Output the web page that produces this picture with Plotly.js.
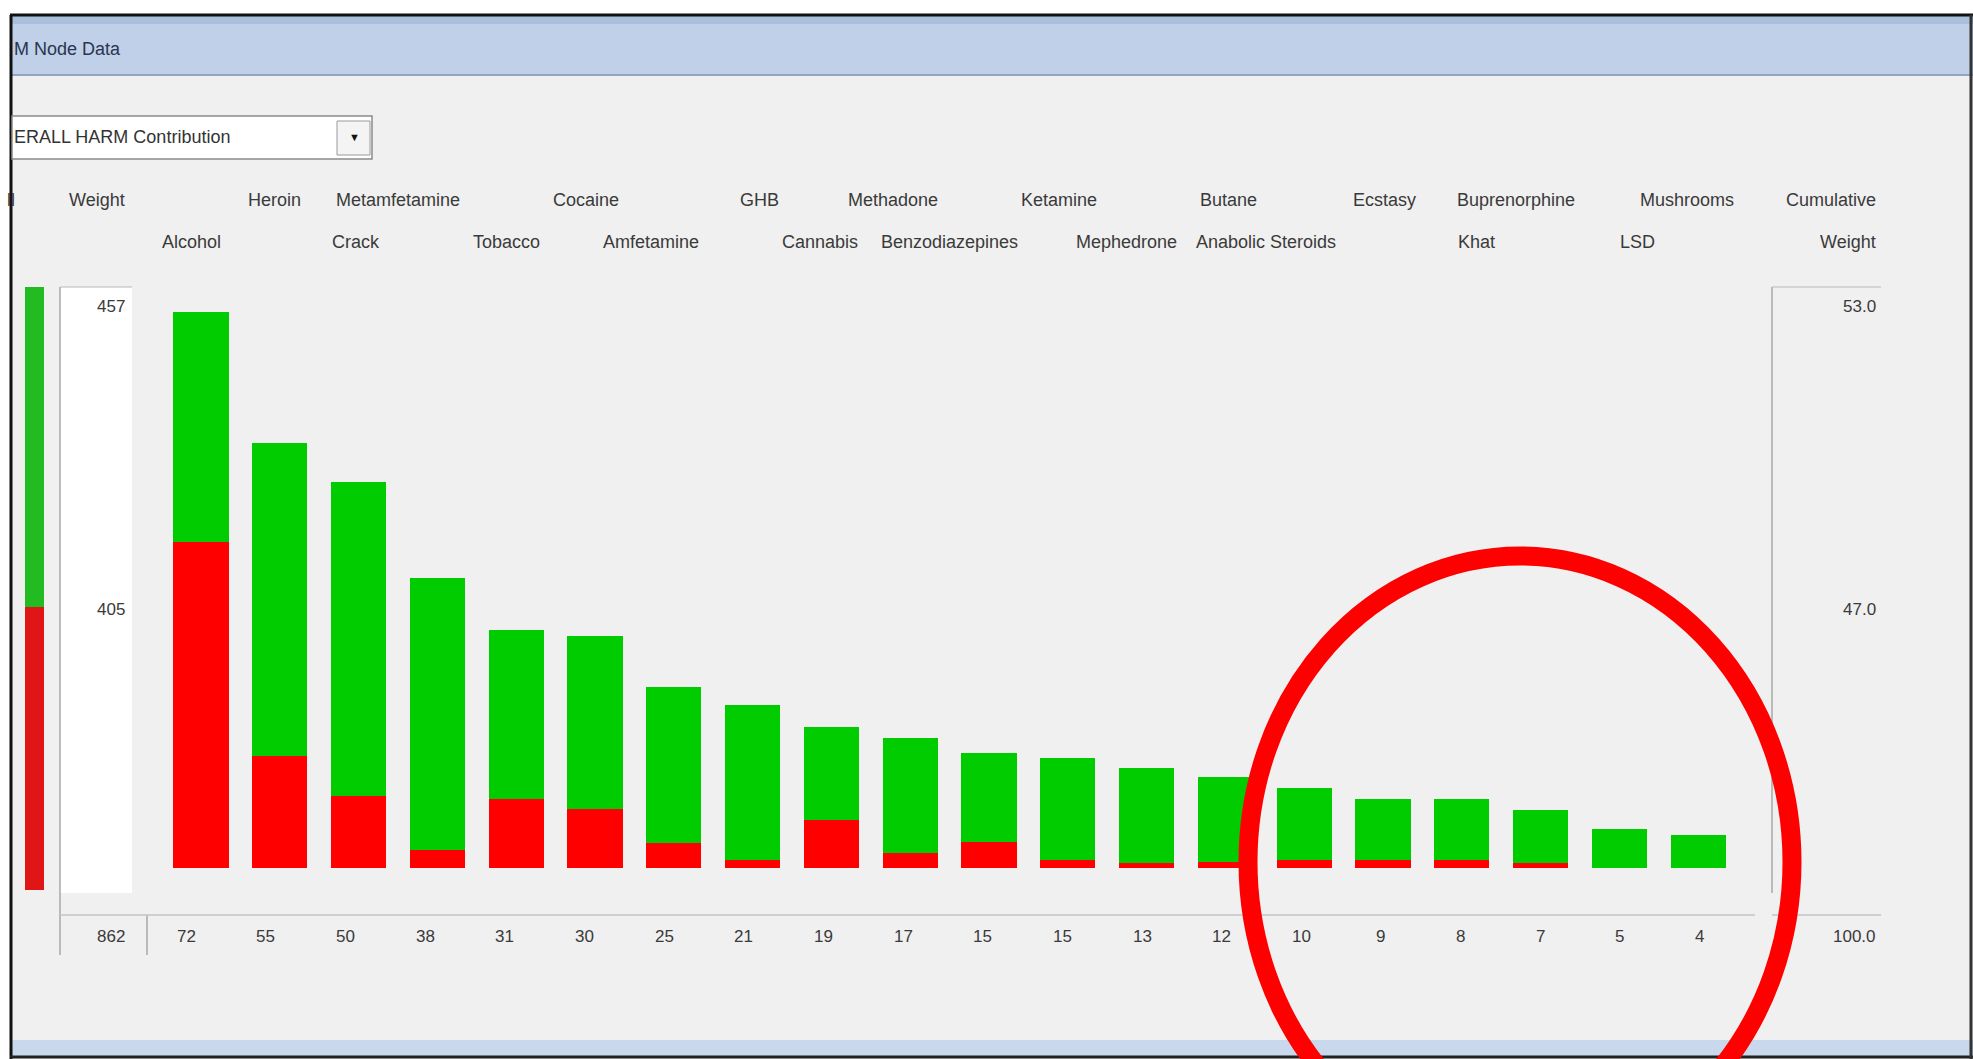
<!DOCTYPE html>
<html>
<head>
<meta charset="utf-8">
<script src="https://cdn.plot.ly/plotly-3.0.1.min.js"></script>
<style>html,body{margin:0;padding:0;background:#f0f0f0;overflow:hidden}#chart{width:1973px;height:1059px}</style>
</head>
<body>
<div id="chart"></div>
<script>
// ---- data ----
const drugs = ['Alcohol','Heroin','Crack','Metamfetamine','Tobacco','Cocaine','Amfetamine','GHB','Cannabis','Methadone','Benzodiazepines','Ketamine','Mephedrone','Butane','Anabolic Steroids','Ecstasy','Khat','Buprenorphine','LSD','Mushrooms'];
const harmRed   = [42.2, 14.5, 9.3, 2.3, 8.9, 7.6, 3.2, 1.1, 6.2, 1.9, 3.4, 1.0, 0.6, 0.8, 1.1, 1.1, 1.0, 0.7, 0, 0];
const harmGreen = [29.8, 40.5, 40.7, 35.3, 21.9, 22.4, 20.2, 20.0, 12.1, 14.9, 11.5, 13.3, 12.3, 11.0, 9.2, 7.9, 7.9, 6.8, 5.0, 4.3];
const scoreLabels = ['72','55','50','38','31','30','25','21','19','17','15','15','13','12','10','9','8','7','5','4'];
const weightRed = 405, weightGreen = 457, weightTotal = 862;
const cumLabels = ['53.0','47.0','100.0'];
const windowTitle = 'M Node Data';
const dropdownText = 'ERALL HARM Contribution';

// ---- layout helpers (pixel -> paper) ----
const W = 1973, H = 1059;
const px = x => x / W, py = y => 1 - y / H;
const FONT = 'Liberation Sans, Arial, sans-serif';
const TXT = '#3a3a3a';

const traces = [
  {type:'bar', x:drugs, y:harmRed, marker:{color:'#ff0000'}, xaxis:'x', yaxis:'y', hoverinfo:'skip'},
  {type:'bar', x:drugs, y:harmGreen, marker:{color:'#00cc00'}, xaxis:'x', yaxis:'y', hoverinfo:'skip'},
  {type:'bar', x:['Weight'], y:[weightRed], width:[1], marker:{color:'#e01515'}, xaxis:'x2', yaxis:'y2', hoverinfo:'skip'},
  {type:'bar', x:['Weight'], y:[weightGreen], width:[1], marker:{color:'#22bb22'}, xaxis:'x2', yaxis:'y2', hoverinfo:'skip'},
  {type:'scatter', mode:'markers', x:drugs, y:drugs.map(()=>0), marker:{opacity:0}, xaxis:'x3', yaxis:'y', hoverinfo:'skip'}
];

const ann = [];
function A(text, xref, x, y, xanchor, opts) {
  ann.push(Object.assign({text, xref, x, yref:'paper', y: py(y), xanchor, yanchor:'middle', showarrow:false,
    font:{family:FONT, size:18, color:TXT}}, opts || {}));
}
// drug header labels (alternating rows, right aligned in their cells)
drugs.forEach((d, i) => {
  A(d, 'x3', i + 0.5, i % 2 === 1 ? 200 : 242, 'right', {xshift:-3});
  A(scoreLabels[i], 'x3', i, 936, 'center', {font:{family:FONT, size:17, color:TXT}});
});
A('ll', 'paper', px(17), 200, 'right');
A('Weight', 'paper', px(127), 200, 'right');
A(String(weightGreen), 'paper', px(127), 306, 'right', {font:{family:FONT, size:17, color:TXT}});
A(String(weightRed), 'paper', px(127), 609, 'right', {font:{family:FONT, size:17, color:TXT}});
A(String(weightTotal), 'paper', px(127), 936, 'right', {font:{family:FONT, size:17, color:TXT}});
A('Cumulative', 'paper', px(1878), 200, 'right');
A('Weight', 'paper', px(1878), 242, 'right');
A(cumLabels[0], 'paper', px(1878), 306, 'right', {font:{family:FONT, size:17, color:TXT}});
A(cumLabels[1], 'paper', px(1878), 609, 'right', {font:{family:FONT, size:17, color:TXT}});
A(cumLabels[2], 'paper', px(1878), 936, 'right', {font:{family:FONT, size:17, color:TXT}});
A(windowTitle, 'paper', px(12), 49, 'left', {font:{family:FONT, size:18, color:'#2a3550'}});
A(dropdownText, 'paper', px(12), 137, 'left', {font:{family:FONT, size:18, color:'#333'}});
A('▼', 'paper', px(354), 137, 'center', {font:{family:FONT, size:11, color:'#111'}});

function R(x0, y0, x1, y1, fill, line, lw) {
  return {type:'rect', xref:'paper', yref:'paper', x0:px(x0), x1:px(x1), y0:py(y1), y1:py(y0),
    fillcolor:fill, line:{color:line || fill, width:lw === undefined ? 0 : lw}, layer:'below'};
}
function L(x0, y0, x1, y1, color, w) {
  return {type:'line', xref:'paper', yref:'paper', x0:px(x0), x1:px(x1), y0:py(y0), y1:py(y1),
    line:{color, width:w || 1}, layer:'below'};
}
const shapes = [
  // outside of window
  R(0, 0, W, 15, '#ffffff'),
  R(0, 0, 10, H, '#ffffff'),
  // title bar
  R(10, 15, W, 75, '#bfd0e8'),
  R(10, 15, W, 24, '#a9bfdc'),
  L(10, 75, W, 75, '#8fa6c4', 2),
  // bottom band
  R(10, 1040, W, 1056, '#c9d8ec'),
  // window border
  L(11, 15, 11, H, '#111', 3),
  L(10, 15, W, 15, '#111', 3),
  L(10, 1057, W, 1057, '#222', 3),
  L(1971, 15, 1971, H, '#333', 3),
  // dropdown
  R(12, 116, 372, 159, '#ffffff', '#8a8a8a', 1.5),
  R(337, 121, 370, 155, '#f4f4f4', '#9a9a9a', 1),
  // weight column box
  R(60, 287, 132, 893, '#ffffff'),
  L(60, 287, 60, 955, '#a8a8a8', 1.5),
  L(60, 287, 132, 287, '#b8b8b8', 1),
  L(147, 915, 147, 955, '#a8a8a8', 1.5),
  L(60, 915, 1755, 915, '#c4c4c4', 1.5),
  // cumulative box
  L(1772, 287, 1772, 893, '#a8a8a8', 1.5),
  L(1772, 287, 1881, 287, '#b8b8b8', 1),
  L(1772, 915, 1881, 915, '#c4c4c4', 1.5),
  // red highlight circle
  {type:'circle', xref:'paper', yref:'paper', x0:px(1520-272), x1:px(1520+272), y0:py(862+306), y1:py(862-306),
    line:{color:'#ff0000', width:19}, fillcolor:'rgba(0,0,0,0)', layer:'above'}
];

const layout = {
  width:W, height:H, margin:{l:0, r:0, t:0, b:0},
  paper_bgcolor:'#f0f0f0', plot_bgcolor:'rgba(0,0,0,0)',
  barmode:'stack', bargap:0.3, showlegend:false, hovermode:false,
  xaxis:{domain:[px(161.6), px(1737.6)], type:'category', range:[-0.5, 19.5], visible:false, fixedrange:true},
  yaxis:{domain:[py(868), py(300)], range:[0, (868-300)/7.72], visible:false, fixedrange:true},
  xaxis2:{domain:[px(25), px(44)], type:'category', range:[-0.5, 0.5], anchor:'y2', visible:false},
  yaxis2:{domain:[py(890), py(287)], range:[0, weightTotal], anchor:'x2', visible:false},
  xaxis3:{domain:[px(146.4), px(1739.4)], type:'category', range:[-0.5, 19.5], anchor:'y', visible:false},
  shapes, annotations:ann
};
Plotly.newPlot('chart', traces, layout, {displayModeBar:false, staticPlot:true});
</script>
</body>
</html>
